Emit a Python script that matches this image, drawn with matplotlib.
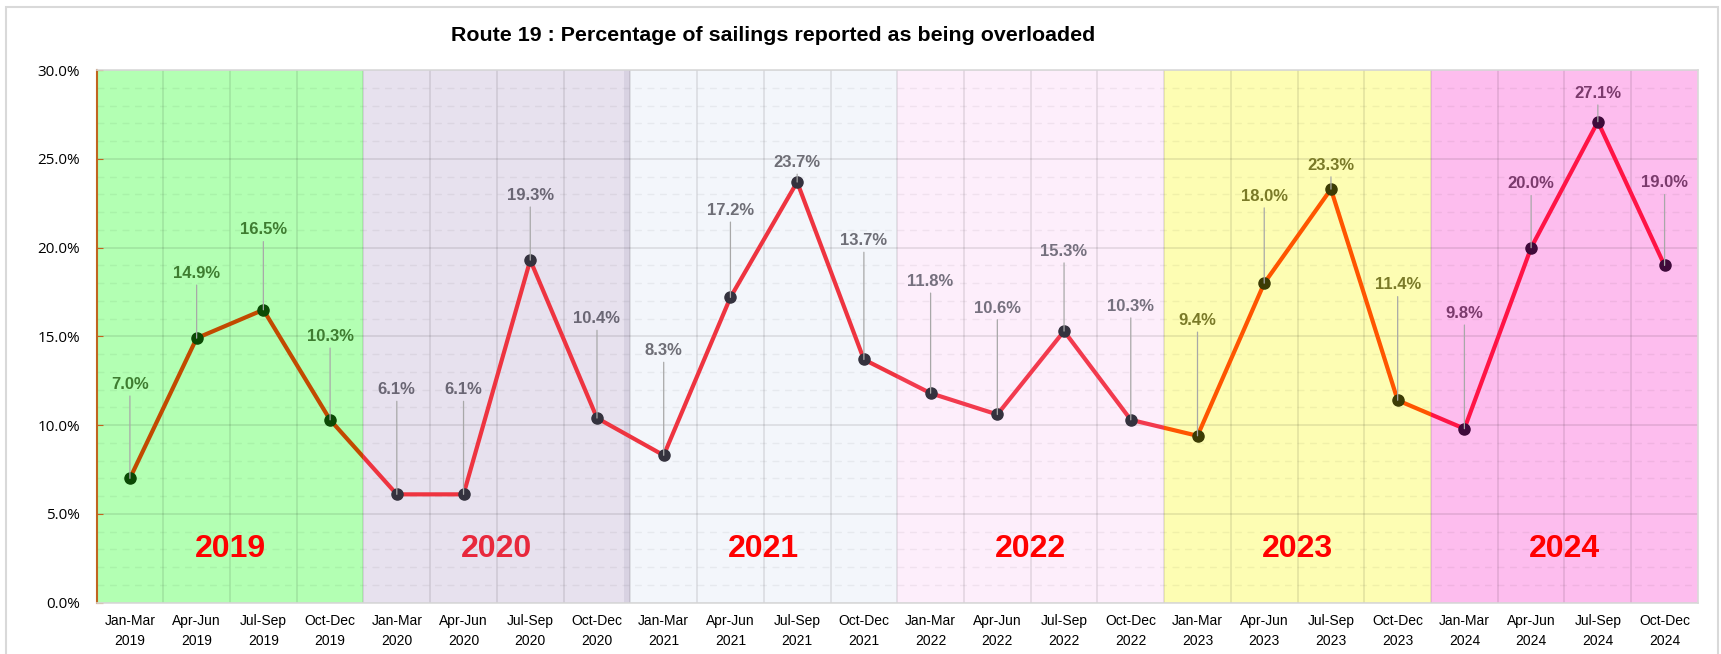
import numpy as np
import matplotlib.pyplot as plt
from matplotlib.patches import Rectangle
from matplotlib.ticker import PercentFormatter, MultipleLocator, FixedLocator

# data
years = ['2019', '2020', '2021', '2022', '2023', '2024']
quarters = ['Jan-Mar', 'Apr-Jun', 'Jul-Sep', 'Oct-Dec']
pct = [7.0, 14.9, 16.5, 10.3,
       6.1, 6.1, 19.3, 10.4,
       8.3, 17.2, 23.7, 13.7,
       11.8, 10.6, 15.3, 10.3,
       9.4, 18.0, 23.3, 11.4,
       9.8, 20.0, 27.1, 19.0]
labels = [q + '\n' + y for y in years for q in quarters]

# where the value labels sit (in % units)
label_y = [12.3, 18.55, 21.0, 15.0, 12.0, 12.0, 22.95, 16.0, 14.2, 22.1, 24.8, 20.4,
           18.1, 16.6, 19.8, 16.7, 15.9, 22.9, 24.65, 17.9, 16.3, 23.6, 28.7, 23.65]

# styles per year
band_col = ['#B3FFB3', '#E7E1EE', '#F3F6FB', '#FDEEFB', '#FDFDB3', '#FDBDEE']
line_col = ['#C24A00', '#EE3440', '#EE3440', '#F23A4E', '#FF5500', '#FF1446']
mark_col = ['#0B4A05', '#34323E', '#34323E', '#34323E', '#3C3C05', '#3E0A3A']
text_col = ['#3E7C30', '#6A6674', '#6E6E76', '#75707E', '#7A7A28', '#7A3A6C']
year_txt_col = ['#FF0000', '#E8283C', '#FF0000', '#FF0000', '#FF0000', '#FF0000']

x = np.arange(len(pct))

fig = plt.figure(figsize=(17.21, 6.54), dpi=100)
ax = fig.add_axes([0.0561, 0.0786, 0.9305, 0.814])

# background bands
for k in range(len(years)):
    ax.axvspan(4*k - 0.5, 4*k + 3.5, color=band_col[k], lw=0, zorder=0)
ax.axvspan(7.4, 7.5, color='#D8D2E2', lw=0, zorder=0)

# line, coloured by year band
for k in range(len(years)):
    ln, = ax.plot(x, pct, color=line_col[k], lw=3, solid_capstyle='round', zorder=3)
    ln.set_clip_path(Rectangle((4*k - 0.5, -5), 4, 50, transform=ax.transData))
    sl = slice(4*k, 4*k + 4)
    ax.plot(x[sl], pct[sl], 'o', color=mark_col[k], ms=8, zorder=4)
    for i in range(4*k, 4*k + 4):
        ax.annotate(f'{pct[i]:.1f}%', xy=(i, pct[i]), xytext=(i, label_y[i]),
                    ha='center', va='center', fontsize=12, fontweight='bold',
                    color=text_col[k], family='Liberation Sans', zorder=5,
                    arrowprops=dict(arrowstyle='-', color='#A8A8A8', lw=0.9,
                                    shrinkA=1, shrinkB=0))
    ax.text(4*k + 1.5, 3.0, years[k], ha='center', va='center', fontsize=23,
            fontweight='bold', color=year_txt_col[k],
            family='Liberation Sans', zorder=5)

ax.set_xlim(-0.5, len(pct) - 0.5)
ax.set_ylim(0, 30)
ax.set_xticks(x)
ax.set_xticklabels(labels, linespacing=1.6)
ax.xaxis.set_minor_locator(FixedLocator(np.arange(0.5, len(pct) - 1, 1)))
ax.yaxis.set_major_locator(MultipleLocator(5))
ax.yaxis.set_minor_locator(MultipleLocator(1))
ax.yaxis.set_major_formatter(PercentFormatter(decimals=1))

ax.tick_params(axis='x', which='both', length=0, pad=8, labelsize=10,
               labelfontfamily='Liberation Sans')
ax.tick_params(axis='y', which='major', direction='in', length=4, color='#C0651F', pad=12,
               labelsize=11, labelfontfamily='Open Sans')
ax.tick_params(axis='y', which='minor', length=0)

ax.set_axisbelow('line')
ax.xaxis.grid(True, which='minor', color='k', alpha=0.1, lw=1.2)
ax.yaxis.grid(True, which='major', color='k', alpha=0.1, lw=1.2)
ax.yaxis.grid(True, which='minor', ls=(0, (5, 4)), color='k', alpha=0.05, lw=1)

ax.spines['left'].set_color('#C0651F')
ax.spines['left'].set_linewidth(1.5)
for s in ['top', 'right', 'bottom']:
    ax.spines[s].set_color('#D9D9D9')
    ax.spines[s].set_linewidth(1.2)

fig.text(0.449, 0.946, 'Route 19 : Percentage of sailings reported as being overloaded',
         ha='center', va='center', fontsize=15.4, fontweight='bold', family='Liberation Sans')

# chart border
fig.patches.append(Rectangle((6/1721, -0.05), 1712/1721, 1 - 7/654 + 0.05,
                             transform=fig.transFigure, fill=False,
                             edgecolor='#D9D9D9', lw=1.5))

plt.savefig('out.png', dpi=100)
